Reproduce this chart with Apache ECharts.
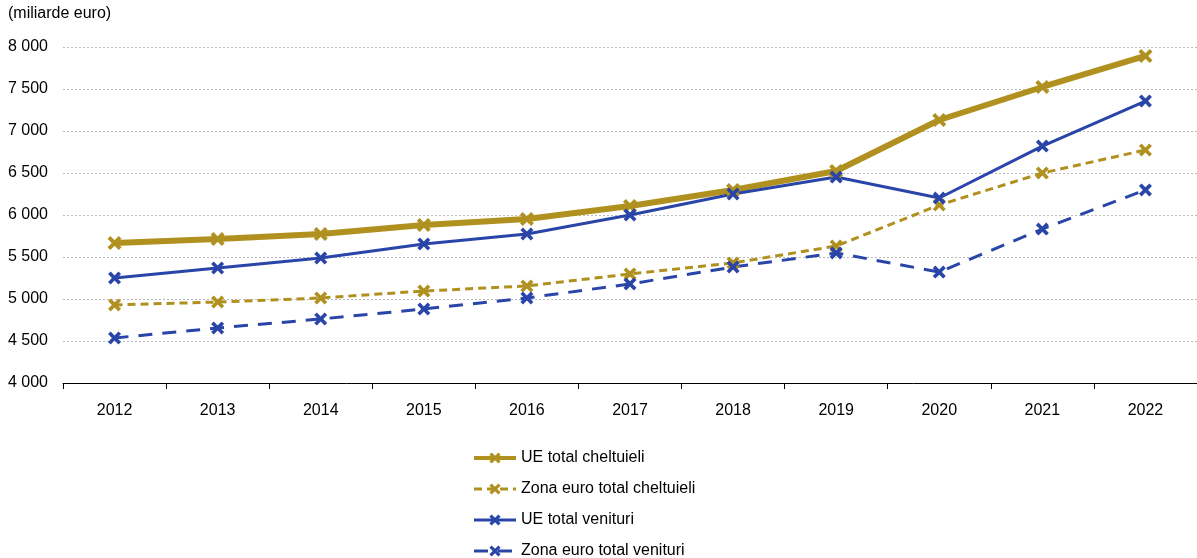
<!DOCTYPE html>
<html>
<head>
<meta charset="utf-8">
<script src="https://cdn.jsdelivr.net/npm/echarts@6/dist/echarts.min.js"></script>
<style>
  html, body { margin: 0; padding: 0; background: #fff; }
  #chart { width: 1197px; height: 558px; }
</style>
</head>
<body>
<div id="chart"></div>
<script>
var years = ['2012', '2013', '2014', '2015', '2016', '2017', '2018', '2019', '2020', '2021', '2022'];
var ueCheltuieli = [5667, 5714, 5774, 5881, 5952, 6107, 6298, 6524, 7131, 7524, 7893];
var zonaCheltuieli = [4929, 4964, 5012, 5095, 5155, 5298, 5429, 5631, 6119, 6500, 6774];
var ueVenituri = [5250, 5369, 5488, 5655, 5774, 6000, 6250, 6452, 6202, 6821, 7357];
var zonaVenituri = [4536, 4655, 4762, 4881, 5012, 5179, 5381, 5548, 5321, 5833, 6298];

var gold = '#B09120';
var blue = '#2A45A8';
// X shaped marker
var xMark = 'path://M2,0 L5,3 L8,0 L10,2 L7,5 L10,8 L8,10 L5,7 L2,10 L0,8 L3,5 L0,2 Z';

var myChart = echarts.init(document.getElementById('chart'));

function mkSeries(name, data, color, width, dash, size) {
  return {
    name: name,
    type: 'line',
    data: data,
    symbol: xMark,
    symbolSize: size,
    showAllSymbol: true,
    lineStyle: { color: color, width: width, type: dash },
    itemStyle: { color: color },
    emphasis: { disabled: true },
    animation: false
  };
}

var option = {
  animation: false,
  textStyle: { fontFamily: 'Liberation Sans, Arial, sans-serif' },
  graphic: [{
    type: 'text',
    left: 8,
    top: 6,
    style: { text: '(miliarde euro)', fontSize: 16, fill: '#000', fontFamily: 'Liberation Sans, Arial, sans-serif' }
  }],
  grid: { left: 63, right: 0, top: 47, height: 336, containLabel: false },
  legend: {
    orient: 'vertical',
    left: 472,
    top: 450,
    padding: 0,
    height: 200,
    itemWidth: 42,
    itemHeight: 14,
    itemGap: 15,
    textStyle: { fontSize: 16, color: '#000' },
    data: [
      { name: 'UE total cheltuieli', lineStyle: { width: 4 } },
      { name: 'Zona euro total cheltuieli', lineStyle: { width: 3 } },
      { name: 'UE total venituri', lineStyle: { width: 3 } },
      { name: 'Zona euro total venituri', lineStyle: { width: 3 } }
    ]
  },
  xAxis: {
    type: 'category',
    data: years,
    boundaryGap: true,
    axisLine: { lineStyle: { color: '#000', width: 1 } },
    axisTick: { show: true, length: 6, lineStyle: { color: '#000' } },
    axisLabel: { fontSize: 16, color: '#000', margin: 20 }
  },
  yAxis: {
    type: 'value',
    min: 4000,
    max: 8000,
    interval: 500,
    axisLine: { show: false },
    axisTick: { show: false },
    splitLine: { lineStyle: { color: '#bbb', type: [2, 2], width: 1 } },
    axisLabel: {
      fontSize: 16,
      color: '#000',
      margin: 15,
      formatter: function (v) {
        return String(v).replace(/\B(?=(\d{3})+(?!\d))/g, ' ');
      }
    }
  },
  series: [
    mkSeries('UE total cheltuieli', ueCheltuieli, gold, 6, 'solid', 14),
    mkSeries('Zona euro total cheltuieli', zonaCheltuieli, gold, 3, [8, 5], 13),
    mkSeries('UE total venituri', ueVenituri, blue, 3, 'solid', 13),
    mkSeries('Zona euro total venituri', zonaVenituri, blue, 3, [14, 10], 13)
  ]
};

myChart.setOption(option);
</script>
</body>
</html>
